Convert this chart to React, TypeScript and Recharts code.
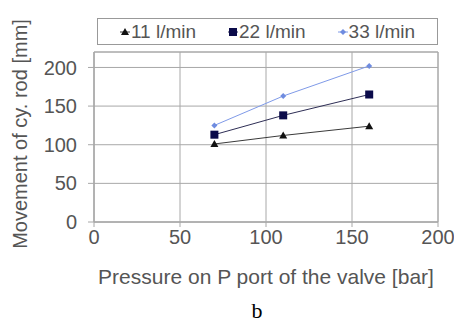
import { LineChart, Line, XAxis, YAxis, CartesianGrid, ReferenceArea, Label } from 'recharts';

// pressure on P port [bar]
const pressures = [70, 110, 160];
// movement of cylinder rod [mm] per flow rate
const flow11 = [101, 112, 124];
const flow22 = [113, 138, 165];
const flow33 = [125, 163, 202];
const xTicks = [0, 50, 100, 150, 200];
const yTicks = [0, 50, 100, 150, 200];

const series = [
  { key: 'f11', name: '11 l/min', line: '#3a3a3a', mark: '#111111', shape: 'triangle' },
  { key: 'f22', name: '22 l/min', line: '#2e2e55', mark: '#0b0b4a', shape: 'square' },
  { key: 'f33', name: '33 l/min', line: '#7f9ae8', mark: '#6f8ce0', shape: 'diamond' },
];

const data = pressures.map((p, i) => ({ p, f11: flow11[i], f22: flow22[i], f33: flow33[i] }));

const font = 'Arial, "Liberation Sans", sans-serif';
const textColor = '#555';
const gridColor = '#a8a8a8';

function Marker({ cx, cy, shape, color }: any) {
  if (cx == null || cy == null) return null;
  if (shape === 'triangle') {
    return <polygon points={`${cx},${cy - 4} ${cx - 4},${cy + 3} ${cx + 4},${cy + 3}`} fill={color} />;
  }
  if (shape === 'square') {
    return <rect x={cx - 4} y={cy - 4} width={8} height={8} fill={color} />;
  }
  return <polygon points={`${cx},${cy - 3} ${cx + 3},${cy} ${cx},${cy + 3} ${cx - 3},${cy}`} fill={color} />;
}

// boxed legend above the plot (kept out of the chart layout so the plot top stays put)
const LegendBox = () => (
  <div
    style={{
      position: 'absolute',
      left: 97,
      top: 18,
      width: 341,
      height: 27,
      border: '1px solid #999',
      display: 'flex',
      alignItems: 'center',
      justifyContent: 'center',
      gap: 32,
      fontFamily: font,
      fontSize: 19,
      color: textColor,
      boxSizing: 'border-box',
      background: '#fff',
    }}
  >
    {series.map(s => (
      <div key={s.key} style={{ display: 'flex', alignItems: 'center' }}>
        <svg width={10} height={10} style={{ marginRight: 1 }}>
          <line x1={0} y1={5} x2={10} y2={5} stroke={s.line} strokeWidth={1} />
          <Marker cx={5} cy={5} shape={s.shape} color={s.mark} />
        </svg>
        <span>{s.name}</span>
      </div>
    ))}
  </div>
);

export default function App() {
  return (
    <div style={{ position: 'absolute', left: 0, top: 0, width: 454, height: 322, background: '#fff' }}>
      <LineChart width={454} height={322} data={data} margin={{ top: 52, right: 16, left: 0, bottom: 70 }}>
        <CartesianGrid stroke={gridColor} strokeWidth={1} />
        <ReferenceArea x1={0} x2={200} y1={0} y2={220} fill="none" stroke={gridColor} strokeWidth={1} ifOverflow="visible" />
        <XAxis
          dataKey="p"
          type="number"
          domain={[0, 200]}
          ticks={xTicks}
          interval={0}
          height={30}
          stroke={gridColor}
          tickSize={5}
          tickMargin={3}
          tick={{ fill: textColor, fontSize: 20, fontFamily: font }}
        >
          <Label
            value="Pressure on P port of the valve [bar]"
            position="insideBottom"
            offset={-32}
            style={{ fill: textColor, fontSize: 21, fontFamily: font }}
          />
        </XAxis>
        <YAxis
          type="number"
          domain={[0, 220]}
          ticks={yTicks}
          interval={0}
          stroke={gridColor}
          tickSize={6}
          tickMargin={11}
          width={94}
          tick={{ fill: textColor, fontSize: 20, fontFamily: font }}
        >
          <Label
            value="Movement of cy. rod [mm]"
            angle={-90}
            position="insideLeft"
            offset={20}
            dy={-3}
            style={{ fill: textColor, fontSize: 20, fontFamily: font, textAnchor: 'middle' }}
          />
        </YAxis>
        {series.map(s => (
          <Line
            key={s.key}
            dataKey={s.key}
            name={s.name}
            stroke={s.line}
            strokeWidth={1}
            isAnimationActive={false}
            dot={(props: any) => <Marker key={`${s.key}-${props.index}`} cx={props.cx} cy={props.cy} shape={s.shape} color={s.mark} />}
            activeDot={false}
          />
        ))}
      </LineChart>
      <LegendBox />
      <div
        style={{
          position: 'absolute',
          left: 0,
          width: 514,
          top: 301,
          lineHeight: '20px',
          textAlign: 'center',
          fontFamily: '"Liberation Serif", "Times New Roman", serif',
          fontSize: 22,
          color: '#000',
        }}
      >
        b
      </div>
    </div>
  );
}
